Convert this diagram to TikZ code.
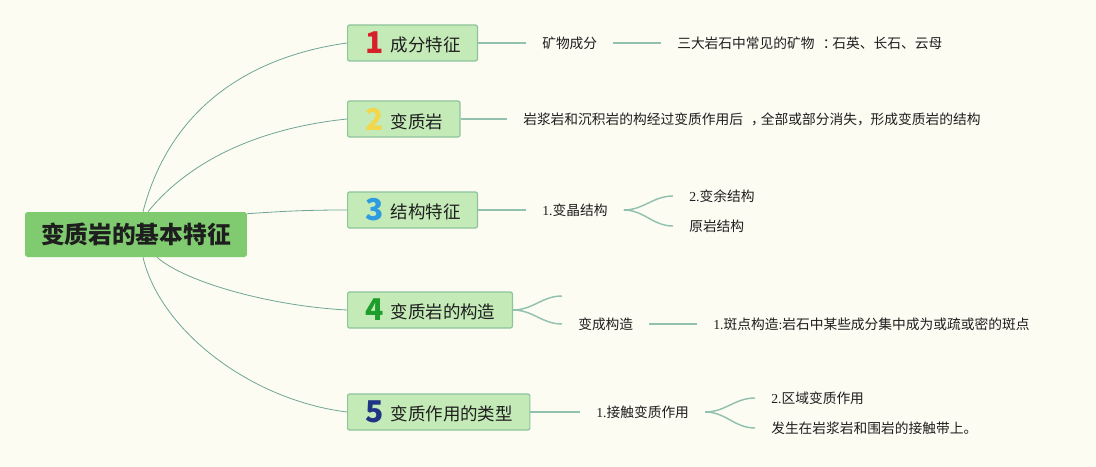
\documentclass[tikz,border=0pt]{standalone}
\usepackage{fontspec}
\setmainfont{Noto Sans CJK SC}
\newfontfamily\latin{Liberation Serif}
\usetikzlibrary{positioning}
\definecolor{paper}{HTML}{FDFCF2}
\definecolor{ink}{HTML}{1E1E1E}
\definecolor{rootgreen}{HTML}{80CB70}
\definecolor{boxgreen}{HTML}{C4EBB7}
\definecolor{boxedge}{HTML}{8CC49C}
\definecolor{trunkline}{HTML}{6FA596}
\definecolor{twigline}{HTML}{93C1B0}
\definecolor{numred}{HTML}{D8202A}
\definecolor{numyellow}{HTML}{F2D64B}
\definecolor{numblue}{HTML}{2E9BE0}
\definecolor{numgreen}{HTML}{1E9C2C}
\definecolor{numnavy}{HTML}{1F3584}
\newcommand{\bnum}[3]{\makebox[15pt][c]{\color{#1}\fontsize{22.5}{24}\selectfont\bfseries #2}\hspace{4.5pt}\raisebox{1.5pt}{#3}}

\begin{document}
\begin{tikzpicture}[x=0.75pt,y=-0.75pt,
        root/.style={fill=rootgreen,rounded corners=2pt,inner xsep=12pt,inner ysep=0pt,minimum height=33.75pt,text=ink,font=\fontsize{17.8}{20}\selectfont\bfseries},
        topic/.style={fill=boxgreen,draw=boxedge,line width=0.9pt,rounded corners=1.5pt,inner xsep=12.75pt,inner ysep=0pt,minimum height=27pt,anchor=west,text=ink,font=\fontsize{13.1}{15}\selectfont},
        leaf/.style={inner xsep=12pt,anchor=west,text=ink,font=\fontsize{10.3}{12}\selectfont},
        trunk/.style={draw=trunkline,line width=0.6pt},
        twig/.style={draw=twigline,line width=1.1pt}]
    \useasboundingbox (0,0) rectangle (1096,467);
    \fill [paper] (0,0) rectangle (1096,467);
    \node [root] (root) at (136,234.5) {变质岩的基本特征};
    \node [topic] (b1) at (347,43) {\bnum{numred}{1}{成分特征}};
    \node [topic] (b2) at (347,119) {\bnum{numyellow}{2}{变质岩}};
    \node [topic] (b3) at (347,210) {\bnum{numblue}{3}{结构特征}};
    \node [topic] (b4) at (347,310) {\bnum{numgreen}{4}{变质岩的构造}};
    \node [topic] (b5) at (347,412) {\bnum{numnavy}{5}{变质作用的类型}};
    \draw [trunk] ([xshift=5.25pt]root.north) .. controls (172,100) and (260,55) .. (b1.west);
    \draw [trunk] ([xshift=9pt]root.north) .. controls (190,160) and (260,128) .. (b2.west);
    \draw [trunk] ([yshift=-1.5pt]root.north east) to[out=4,in=180] (b3.west);
    \draw [trunk] ([xshift=15.75pt]root.south) .. controls (185,282) and (270,306) .. (b4.west);
    \draw [trunk] ([xshift=5.25pt]root.south) .. controls (160,330) and (250,400) .. (b5.west);
    % second level
    \node [leaf] (t1a) at (526,43) {矿物成分};
    \node [leaf] (t1b) at (661,43) {三大岩石中常见的矿物\hspace{0.6em}：\hspace{-0.3em}石英、长石、云母};
    \node [leaf] (t2a) at (507,119) {岩浆岩和沉积岩的构经过变质作用后\hspace{0.6em}，\hspace{-0.3em}全部或部分消失，形成变质岩的结构};
    \node [leaf] (t3a) at (526,210) {{\latin 1.}变晶结构};
    \node [leaf] (t3b) at (673,196) {{\latin 2.}变余结构};
    \node [leaf] (t3c) at (673,226) {原岩结构};
    \coordinate (c4a) at (562,296);
    \node [leaf] (t4b) at (562,324) {变成构造};
    \node [leaf] (t4c) at (697,324) {{\latin 1.}斑点构造{\latin :}岩石中某些成分集中成为或疏或密的斑点};
    \node [leaf] (t5a) at (580,412) {{\latin 1.}接触变质作用};
    \node [leaf] (t5b) at (755,398) {{\latin 2.}区域变质作用};
    \node [leaf] (t5c) at (755,428) {发生在岩浆岩和围岩的接触带上。};
    \draw [twig] (b1.east) -- (t1a.west);
    \draw [twig] (t1a.east) -- (t1b.west);
    \draw [twig] (b2.east) -- (t2a.west);
    \draw [twig] (b3.east) -- (t3a.west);
    \draw [twig] (t3a.east) to[out=0,in=180] (t3b.west);
    \draw [twig] (t3a.east) to[out=0,in=180] (t3c.west);
    \draw [twig] (b4.east) to[out=0,in=180] (c4a);
    \draw [twig] (b4.east) to[out=0,in=180] (t4b.west);
    \draw [twig] (t4b.east) -- (t4c.west);
    \draw [twig] (b5.east) -- (t5a.west);
    \draw [twig] (t5a.east) to[out=0,in=180] (t5b.west);
    \draw [twig] (t5a.east) to[out=0,in=180] (t5c.west);
\end{tikzpicture}
\end{document}
